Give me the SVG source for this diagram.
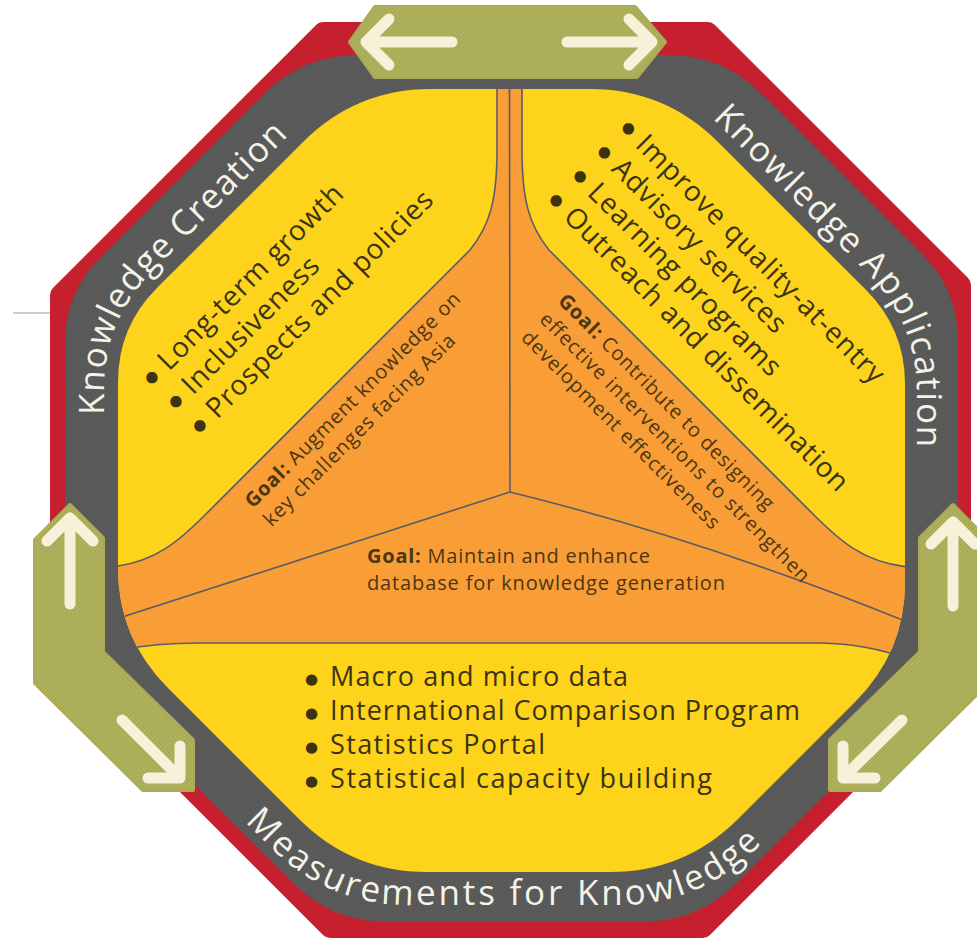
<svg xmlns="http://www.w3.org/2000/svg" width="977" height="940" viewBox="0 0 977 940">
<defs>
<style>
.red{fill:#c61f2e;stroke:#c61f2e;stroke-width:20;stroke-linejoin:round}
.gray{fill:#5b5b5b}
.yellow{fill:#fed31c}
.orange{fill:#f99d36}
.div{fill:none;stroke:#5c5c68;stroke-width:1.6}
.olive{fill:#a9ab56;stroke:#a9ab56;stroke-width:4;stroke-linejoin:round}
.arw{fill:none;stroke:#f8f0d9;stroke-width:11;stroke-linecap:round;stroke-linejoin:round}
.band{font-family:"Open Sans","Liberation Sans",sans-serif;font-size:35px;fill:#f5f2e8}
.bul{font-family:"Open Sans","Liberation Sans",sans-serif;font-size:28px;fill:#3b3413}
.bot{font-family:"Open Sans","Liberation Sans",sans-serif;font-size:27px;fill:#3b3413}
.dot{font-family:"DejaVu Sans",sans-serif;font-size:15px;fill:#3b3413}
.goal{font-family:"Open Sans","Liberation Sans",sans-serif;font-size:20px;fill:#4a3714}
.g{font-weight:bold}
</style>
<pattern id="tex" width="4" height="4" patternUnits="userSpaceOnUse"><path d="M0,4 L4,0" stroke="#000" stroke-opacity="0.07" stroke-width="1"/></pattern>
<pattern id="otex" width="4" height="4" patternUnits="userSpaceOnUse"><path d="M0,4 L4,0" stroke="#fff" stroke-opacity="0.12" stroke-width="1"/></pattern>
<clipPath id="inner"><path d="M431,89 L590,89 Q665,89 718,142 L866.1,290.1 Q905,329 905,384 L905,582 Q905,652 855.5,701.5 L738,819 Q685,872 610,872 L427,872 Q352,872 299,819 L167.5,687.5 Q118,638 118,568 L118,382 Q118,327 156.9,288.1 L303,142 Q356,89 431,89 Z"/></clipPath>
<path id="pCreation" d="M104,480 L104,390 Q104,320 153.5,270.5 L290.5,133.5 Q340,84 410,84"/>
<path id="pApplication" d="M560,78 L622,78 Q672,78 707.4,113.4 L867.5,273.5 Q917,323 917,393 L917,520"/>
<path id="pMeasure" d="M150,727 L270,847 Q328,905 410,905 L618,905 Q700,905 758,847 L880,725"/>
</defs>

<line x1="13" y1="313" x2="50" y2="313" stroke="#9a9a9a" stroke-width="1"/>

<g id="frame">
<polygon class="red" points="323.1,32 707.9,32 961,285.1 961,669.9 702.9,928 330.1,928 60,657.9 60,295.1"/>
<path class="gray" d="M358,55 L668,55 Q723,55 761.9,93.9 L922.6,254.6 Q958,290 958,340 L958,617 Q958,662 926.2,693.8 L736.9,883.1 Q698,922 643,922 L387,922 Q332,922 293.1,883.1 L96.8,686.8 Q65,655 65,610 L65,343 Q65,293 100.4,257.6 L264.1,93.9 Q303,55 358,55 Z"/>
<path fill="url(#tex)" d="M358,55 L668,55 Q723,55 761.9,93.9 L922.6,254.6 Q958,290 958,340 L958,617 Q958,662 926.2,693.8 L736.9,883.1 Q698,922 643,922 L387,922 Q332,922 293.1,883.1 L96.8,686.8 Q65,655 65,610 L65,343 Q65,293 100.4,257.6 L264.1,93.9 Q303,55 358,55 Z"/>
<path class="yellow" d="M431,89 L590,89 Q665,89 718,142 L866.1,290.1 Q905,329 905,384 L905,582 Q905,652 855.5,701.5 L738,819 Q685,872 610,872 L427,872 Q352,872 299,819 L167.5,687.5 Q118,638 118,568 L118,382 Q118,327 156.9,288.1 L303,142 Q356,89 431,89 Z"/>
</g>

<g id="goals" clip-path="url(#inner)">
<path class="orange" d="M497,80 L522,80 L522,150 C522,200 529,225 549,250 L814,515 C839,540 864,563 909,567 L915,567 L915,665 L910,660 Q870,644 820,643 L200,643 Q150,643 110,652 L105,652 L105,567 L110,567 C155,563 180,540 205,515 L470,250 C490,225 497,200 497,150 Z"/>
<path class="div" d="M497,80 L497,150 C497,200 490,225 470,250 L205,515 C180,540 155,563 110,567"/>
<path class="div" d="M522,80 L522,150 C522,200 529,225 549,250 L814,515 C839,540 864,563 909,567"/>
<path class="div" d="M509.5,80 L510,492"/>
<path class="div" d="M510,492 L110,621"/>
<path class="div" d="M510,492 Q705,540 905,621"/>
<path class="div" d="M110,652 Q150,643 200,643 L820,643 Q870,644 910,660"/>
</g>

<g id="connectors">
<polygon class="olive" points="350,42 375,7 635,7 665,42 637,77 375,77"/>
<polygon class="olive" points="70,505 103,538 103,652 193,740 193,790 143,790 35,683 35,540"/>
<polygon class="olive" points="953,505 920,538 920,652 830,740 830,790 880,790 988,683 988,540"/>
<polygon fill="url(#otex)" points="350,42 375,7 635,7 665,42 637,77 375,77"/>
<polygon fill="url(#otex)" points="70,505 103,538 103,652 193,740 193,790 143,790 35,683 35,540"/>
<polygon fill="url(#otex)" points="953,505 920,538 920,652 830,740 830,790 880,790 988,683 988,540"/>
<path class="arw" d="M452,42 L366,42 M389,19 L366,42 L389,65"/>
<path class="arw" d="M567,42 L652,42 M629,19 L652,42 L629,65"/>
<path class="arw" d="M70,604 L70,518 M47,541 L70,518 L93,541"/>
<path class="arw" d="M122,720 L180,778 M180,746 L180,778 L148,778"/>
<path class="arw" d="M953,606 L953,522 M931,544 L953,522 L975,544"/>
<path class="arw" d="M902,720 L843,778 M843,746 L843,778 L875,778"/>
</g>

<g id="knowledge-creation">
<text class="band" letter-spacing="1.2"><textPath href="#pCreation" startOffset="65">Knowledge Creation</textPath></text>
<g transform="translate(153.5,387.2) rotate(-45)">
<text class="dot" x="-1" y="-4">●</text><text class="bul" x="22" y="0" textLength="249">Long-term growth</text>
<text class="dot" x="-1" y="30">●</text><text class="bul" x="22" y="34" textLength="181">Inclusiveness</text>
<text class="dot" x="-1" y="64">●</text><text class="bul" x="22" y="68" textLength="308">Prospects and policies</text>
</g>
<g transform="translate(253,509) rotate(-45)">
<text class="goal" x="0" y="0" textLength="295"><tspan class="g">Goal:</tspan> Augment knowledge on</text>
<text class="goal" x="0" y="26" textLength="262">key challenges facing Asia</text>
</g>
</g>

<g id="knowledge-application">
<text class="band" letter-spacing="1.75"><textPath href="#pApplication" startOffset="164">Knowledge Application</textPath></text>
<g transform="translate(618.8,130.5) rotate(45)">
<text class="dot" x="-1" y="-4">●</text><text class="bul" x="22" y="0" textLength="338">Improve quality-at-entry</text>
<text class="dot" x="-1" y="30">●</text><text class="bul" x="22" y="34" textLength="233">Advisory services</text>
<text class="dot" x="-1" y="64">●</text><text class="bul" x="22" y="68" textLength="260">Learning programs</text>
<text class="dot" x="-1" y="98">●</text><text class="bul" x="22" y="102" textLength="389">Outreach and dissemination</text>
</g>
<g transform="translate(557,302) rotate(45)">
<text class="goal" x="0" y="0" textLength="296"><tspan class="g">Goal:</tspan> Contribute to designing</text>
<text class="goal" x="0" y="26" textLength="372">effective interventions to strengthen</text>
<text class="goal" x="0" y="52" textLength="271">development effectiveness</text>
</g>
</g>

<g id="measurements">
<text class="band" letter-spacing="2.8"><textPath href="#pMeasure" startOffset="134">Measurements for Knowledge</textPath></text>
<text class="goal" x="367" y="563" textLength="283"><tspan class="g">Goal:</tspan> Maintain and enhance</text>
<text class="goal" x="367" y="590" textLength="358">database for knowledge generation</text>
<text class="dot" x="305" y="684">●</text><text class="bot" x="330" y="686" textLength="298">Macro and micro data</text>
<text class="dot" x="305" y="718">●</text><text class="bot" x="330" y="720" textLength="470">International Comparison Program</text>
<text class="dot" x="305" y="752">●</text><text class="bot" x="330" y="754" textLength="215">Statistics Portal</text>
<text class="dot" x="305" y="786">●</text><text class="bot" x="330" y="788" textLength="382">Statistical capacity building</text>
</g>
</svg>
